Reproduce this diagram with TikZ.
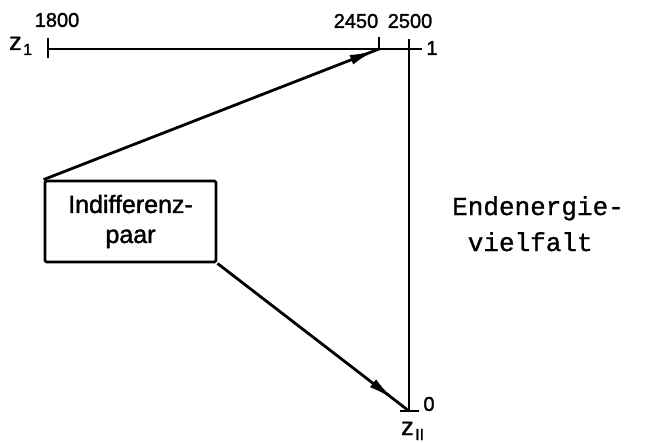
\documentclass[tikz,border=0pt]{standalone}
\usepackage{fontspec}
\setmainfont{Liberation Sans}[FakeBold=1.5]
\newfontfamily\monofam{Liberation Mono}[FakeBold=1]
\usetikzlibrary{arrows.meta,decorations.markings}
\tikzset{
  ln/.style={line width=2.8pt},
  lab/.style={font=\fontsize{20}{20}\selectfont, inner sep=0pt},
  zlab/.style={font=\fontsize{25}{25}\selectfont, inner sep=0pt, anchor=base west},
  sublab/.style={font=\fontsize{16}{16}\selectfont, inner sep=0pt, anchor=base west},
  arrowline/.style={line width=2.8pt, postaction={decorate},
    decoration={markings, mark=at position #1 with {\arrow{Latex[length=26pt,width=10pt]}}}},
  boxstyle/.style={draw, line width=2.8pt, minimum width=171pt, minimum height=81pt,
    align=center, inner sep=0pt, rounded corners=1.5pt,
    font=\fontsize{25}{30}\selectfont},
}
\begin{document}
\begin{tikzpicture}[x=1pt,y=-1pt]
\useasboundingbox (0,0) rectangle (666,443);
% axis
\coordinate (a1800) at (48,49);
\coordinate (a2450) at (379,49);
\coordinate (a2500) at (409,49);
\coordinate (aend) at (422,49);
\coordinate (vtop) at (409,39);
\coordinate (vbot) at (409,411);
\coordinate (bl) at (400,411);
\coordinate (br) at (419,411);
\draw[ln] (a1800) -- (aend);
\draw[ln] (48,38) -- (48,58);
\draw[ln] (379,37) -- (a2450);
\draw[ln] (vtop) -- (vbot);
\draw[ln] (bl) -- (br);
% labels
\node[lab] (l1800) at (57,20) {1800};
\node[lab] (l2450) at (356,21) {2450};
\node[lab] (l2500) at (410,21) {2500};
\node[lab] (lone) at (432,48) {1};
\node[lab] (lzero) at (429,404) {0};
\node[zlab] (z1) at (9,50) {z};
\node[sublab] (s1) at (23,55) {1};
\node[zlab] (zII) at (401,435) {z};
\node[sublab] (sII) at (415,440) {II};
% box
\node[boxstyle] (box) at (130.5,221.5) {Indifferenz-\\paar};
% arrows
\coordinate (e1) at (379,49);
\coordinate (e2) at (409,411);
\draw[arrowline=0.99] (box.north west) -- (e1);
\draw[arrowline=0.92] (box.south east) -- (e2);
% right text
\node[font=\monofam\fontsize{26}{36}\selectfont, align=left, anchor=north west, inner sep=0pt] (txt) at (452,196) {Endenergie-\\\ vielfalt};
\end{tikzpicture}
\end{document}
